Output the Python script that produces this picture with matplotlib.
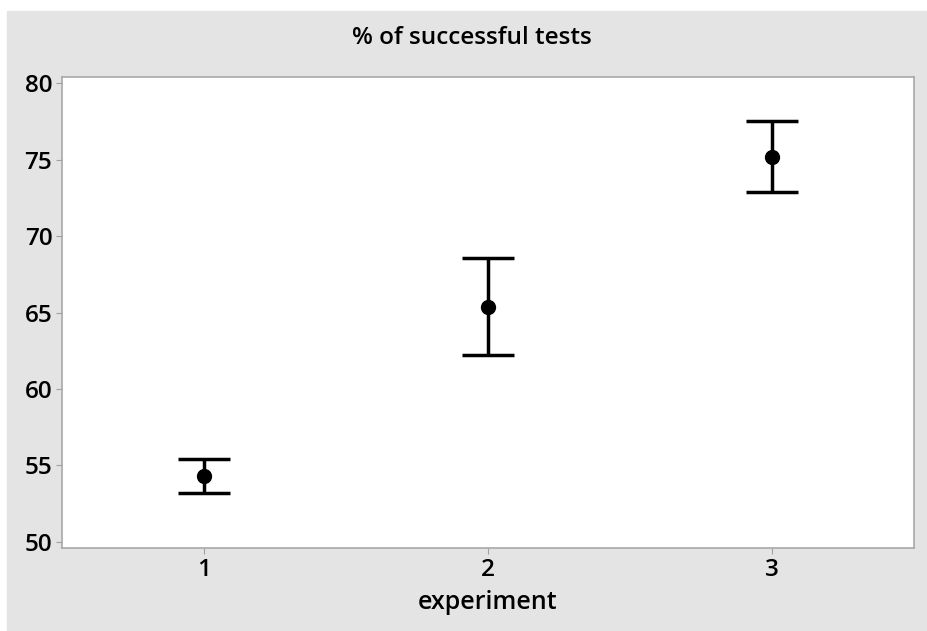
import matplotlib
matplotlib.use("Agg")
import matplotlib.pyplot as plt

experiments = [1, 2, 3]
means = [54.3, 65.35, 75.17]
upper = [55.42, 68.56, 77.52]
lower = [53.2, 62.22, 72.88]
yticks = [50, 55, 60, 65, 70, 75, 80]

plt.rcParams['font.family'] = ['Open Sans', 'DejaVu Sans']

fig = plt.figure(figsize=(9.28, 6.31), dpi=100, facecolor='white')
# gray background panel
fig.patches.append(plt.Rectangle((7/928, 0), 1 - 7/928, 1 - 11/631, transform=fig.transFigure,
                                 color='#e4e4e4', zorder=-1))
ax = fig.add_axes([62/928, 1-548/631, (914-62)/928, (548-77)/631])
ax.set_facecolor('white')

yerr = [[m - l for m, l in zip(means, lower)], [u - m for m, u in zip(means, upper)]]
ax.errorbar(experiments, means, yerr=yerr, fmt='o', color='black', ms=10,
            elinewidth=2.5, capsize=19, capthick=2.5)

ax.set_xlim(0.5, 3.5)
ax.set_ylim(49.6, 80.4)
ax.set_yticks(yticks)
ax.set_xticks(experiments)
ax.tick_params(axis='both', colors='#a0a0a0', labelcolor='black', labelsize=17.5, length=4, pad=3)
for lbl in ax.get_xticklabels() + ax.get_yticklabels():
    lbl.set_fontweight('semibold')
for s in ax.spines.values():
    s.set_color('#a8a8a8')
    s.set_linewidth(1.2)

ax.set_xlabel('experiment', fontsize=18, fontweight='semibold', labelpad=6)
fig.text(472/928, 1-38/631, '% of successful tests', ha='center', va='center',
         fontsize=17.5, fontweight='semibold')

fig.savefig('out.png', dpi=100, facecolor=fig.get_facecolor())
